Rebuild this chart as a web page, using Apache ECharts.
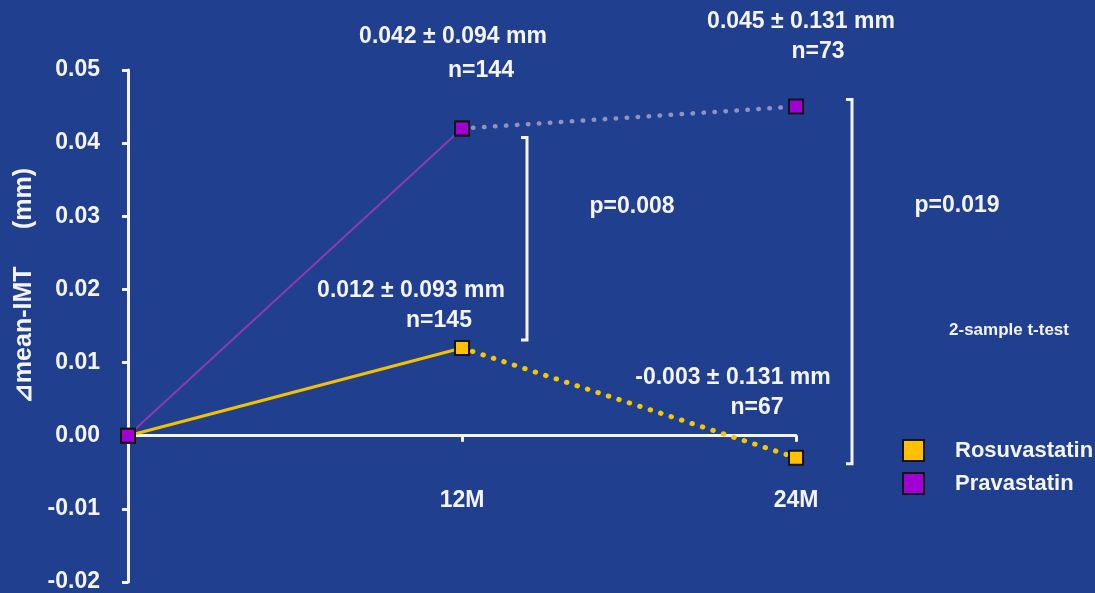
<!DOCTYPE html>
<html>
<head>
<meta charset="utf-8">
<script src="https://cdn.jsdelivr.net/npm/echarts@6/dist/echarts.min.js"></script>
<style>
  html, body { margin: 0; padding: 0; background: #213f8f; }
  #chart { width: 1095px; height: 593px; }
</style>
</head>
<body>
<div id="chart"></div>
<script>
// Follow-up time points (months) and their axis labels
const months = [0, 12, 24];
const monthLabels = ['', '12M', '24M'];

// Change in mean IMT (mm) from baseline
const rosuvastatin = [0, 0.012, -0.003];
const pravastatin = [0, 0.042, 0.045];

// Mean ± SD and group size at each follow-up point
const rosuvaNotes = [null, ['0.012 ± 0.093 mm', 'n=145'], ['-0.003 ± 0.131 mm', 'n=67']];
const pravaNotes = [null, ['0.042 ± 0.094 mm', 'n=144'], ['0.045 ± 0.131 mm', 'n=73']];

// Between-group comparisons at 12M and 24M
const pValues = ['p=0.008', 'p=0.019'];
const testName = '2-sample t-test';

const FONT = 'Liberation Sans, Arial, sans-serif';
const WHITE = '#f4f4f4';
const TEXT_SIZE = 23;

function segment(values, from, to) {
  const out = [];
  for (let i = from; i <= to; i++) out.push([months[i], values[i]]);
  return out;
}

function markerStyle(fill) {
  return { color: fill, borderColor: '#141414', borderWidth: 2 };
}

const chart = echarts.init(document.getElementById('chart'), null, { renderer: 'canvas' });

chart.setOption({
  backgroundColor: '#213f8f',
  animation: false,
  grid: { left: 128, right: 299, top: 70, bottom: 11, containLabel: false, outerBoundsMode: 'none' },
  legend: {
    orient: 'vertical',
    left: 902,
    top: 439,
    padding: 0,
    itemWidth: 21,
    itemHeight: 21,
    itemGap: 10,
    icon: 'rect',
    data: ['Rosuvastatin', 'Pravastatin'],
    itemStyle: { borderColor: '#141414', borderWidth: 2 },
    textStyle: { color: WHITE, fontSize: 22, fontWeight: 'bold', fontFamily: FONT, padding: [0, 0, 0, 26] }
  },
  xAxis: {
    type: 'value',
    min: 0,
    max: 24,
    interval: 12,
    splitLine: { show: false },
    axisLine: { show: true, onZero: true, lineStyle: { color: WHITE, width: 3 } },
    axisTick: { show: true, length: 6, lineStyle: { color: WHITE, width: 3 } },
    // month labels sit well below the zero line; drawn as graphics further down
    axisLabel: { show: false }
  },
  yAxis: {
    type: 'value',
    min: -0.02,
    max: 0.05,
    interval: 0.01,
    splitLine: { show: false },
    axisLine: { show: true, lineStyle: { color: WHITE, width: 3 } },
    axisTick: { show: true, length: 6, lineStyle: { color: WHITE, width: 3 } },
    axisLabel: {
      color: WHITE, fontSize: TEXT_SIZE, fontWeight: 'bold', fontFamily: FONT, margin: 28,
      formatter: v => v.toFixed(2)
    }
  },
  series: [
    {
      name: 'Rosuvastatin', type: 'line', data: segment(rosuvastatin, 0, 1),
      symbol: 'rect', symbolSize: 14, itemStyle: markerStyle('#ffc000'),
      lineStyle: { color: '#f2c100', width: 3 }, z: 3
    },
    {
      name: 'Rosuvastatin', type: 'line', data: segment(rosuvastatin, 1, 2),
      symbol: 'rect', symbolSize: 14, itemStyle: markerStyle('#ffc000'),
      lineStyle: { color: '#f2c800', width: 5, type: [0.5, 10.5], cap: 'round' }, z: 3
    },
    {
      name: 'Pravastatin', type: 'line', data: segment(pravastatin, 1, 2),
      symbol: 'rect', symbolSize: 14, itemStyle: markerStyle('#a000d4'),
      lineStyle: { color: '#8e93c4', width: 4.5, type: [0.5, 10.5], cap: 'round' }, z: 4
    },
    {
      name: 'Pravastatin', type: 'line', data: segment(pravastatin, 0, 1),
      symbol: 'rect', symbolSize: 14, itemStyle: markerStyle('#a000d4'),
      lineStyle: { color: '#8a3bb0', width: 2 }, z: 4
    }
  ]
});

// Annotations placed through the grid's coordinate system
function px(i, v) { return chart.convertToPixel({ gridIndex: 0 }, [months[i], v]); }

function text(str, x, y, size, extra) {
  return Object.assign({
    type: 'text', x: x, y: y, z: 10,
    style: {
      text: str, fill: WHITE, font: 'bold ' + size + 'px ' + FONT,
      textAlign: 'center', textVerticalAlign: 'middle'
    }
  }, extra || {});
}

function bracket(x, top, bottom) {
  return {
    type: 'polyline', z: 10,
    shape: { points: [[x - 6, top], [x, top], [x, bottom], [x - 6, bottom]] },
    style: { stroke: WHITE, lineWidth: 3, fill: null }
  };
}

const pr1 = px(1, pravastatin[1]), pr2 = px(2, pravastatin[2]);
const ro1 = px(1, rosuvastatin[1]), ro2 = px(2, rosuvastatin[2]);

const graphics = [
  // axis title
  text('\u22BFmean-IMT\u3000\u2002(mm)', 24, 286, 25, { rotation: Math.PI / 2 }),

  // mean ± SD notes
  text(pravaNotes[1][0], pr1[0] - 9, pr1[1] - 92, TEXT_SIZE),
  text(pravaNotes[1][1], pr1[0] + 19, pr1[1] - 58, TEXT_SIZE),
  text(pravaNotes[2][0], pr2[0] + 5, pr2[1] - 85, TEXT_SIZE),
  text(pravaNotes[2][1], pr2[0] + 22, pr2[1] - 55, TEXT_SIZE),
  text(rosuvaNotes[1][0], ro1[0] - 51, ro1[1] - 57, TEXT_SIZE),
  text(rosuvaNotes[1][1], ro1[0] - 23, ro1[1] - 27, TEXT_SIZE),
  text(rosuvaNotes[2][0], ro2[0] - 63, ro2[1] - 80, TEXT_SIZE),
  text(rosuvaNotes[2][1], ro2[0] - 39, ro2[1] - 50, TEXT_SIZE),

  // group comparison brackets
  bracket(ro1[0] + 65, pr1[1] + 9, ro1[1] - 8),
  bracket(ro2[0] + 56, pr2[1] - 7, ro2[1] + 6),
  text(pValues[0], ro1[0] + 170, 207, TEXT_SIZE),
  text(pValues[1], ro2[0] + 161, 206, TEXT_SIZE),
  text(testName, 1009, 330, 17)
];

// month labels, one per non-baseline tick
months.forEach((m, i) => {
  if (!monthLabels[i]) return;
  const p = px(i, 0);
  graphics.push(text(monthLabels[i], p[0], p[1] + 65, TEXT_SIZE));
});

chart.setOption({ graphic: graphics });
</script>
</body>
</html>
